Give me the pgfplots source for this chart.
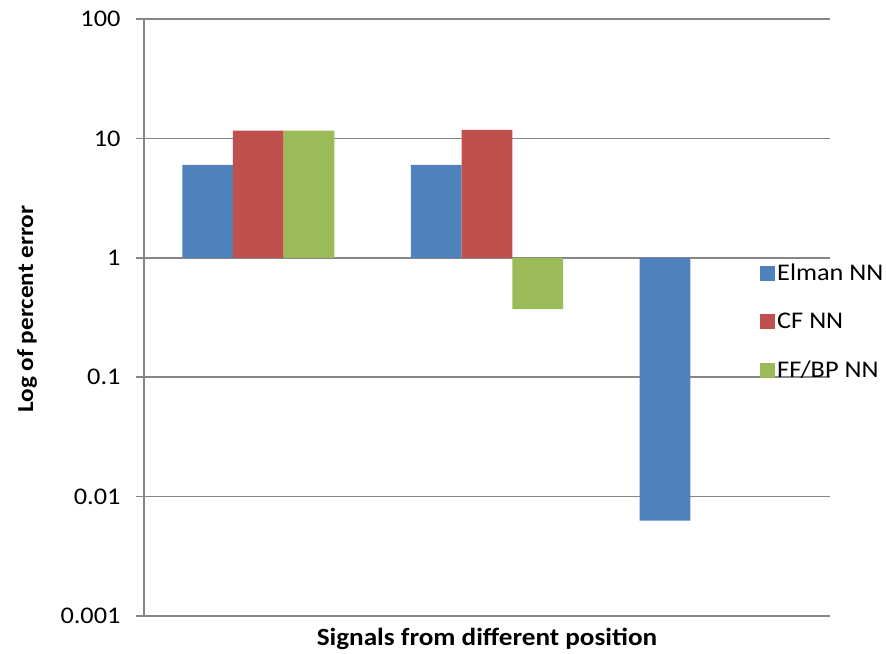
\documentclass[border=0pt]{standalone}
\usepackage{pgfplots}
\pgfplotsset{compat=1.18}
\usepackage{fontspec}
\setmainfont{Carlito}[FakeStretch=1.1]
\definecolor{elman}{HTML}{4F81BD}
\definecolor{cfnn}{HTML}{C0504D}
\definecolor{ffbp}{HTML}{9BBB59}
\definecolor{gridgray}{HTML}{868686}
\begin{document}
\begin{tikzpicture}
\begin{axis}[
  at={(0,0)}, anchor=south west,
  scale only axis,
  width=686bp, height=597bp,
  ymode=log, ymin=0.001, ymax=100,
  xmin=-0.5, xmax=2.5,
  ybar=0pt, bar width=50.7bp,
  axis x line*=bottom,
  x axis line style={draw=none},
  axis y line*=left,
  y axis line style={draw=gridgray, line width=1.5bp, -},
  ymajorgrids,
  grid style={draw=gridgray, line width=1.5bp},
  yminorticks=false,
  ytick={0.001,0.01,0.1,1,10,100},
  yticklabels={0.001,0.01,0.1,1,10,100},
  tick align=outside,
  major tick length=8bp,
  ytick style={draw=gridgray, line width=1.5bp},
  yticklabel style={font=\fontsize{24}{28}\selectfont, text=black, anchor=east, xshift=-12bp},
  /pgf/number format/assume math mode=true,
  xtick=\empty,
  xlabel={Signals from different position},
  xlabel style={at={(rel axis cs:0.5,0)}, anchor=center, yshift=-23bp, font=\bfseries\fontsize{24.8}{28}\selectfont},
  ylabel={Log of percent error},
  ylabel style={at={(rel axis cs:0,0.514)}, anchor=center, yshift=117bp, font=\bfseries\fontsize{23}{27}\selectfont},
  legend style={at={(rel axis cs:0.898,0.593)}, anchor=north west, draw=none, fill=none,
    font=\fontsize{24}{28}\selectfont, row sep=27bp, inner sep=0pt,
    /tikz/every even column/.append style={column sep=0pt}},
  legend cell align=left,
  legend image code/.code={\path[#1] (-3bp,-7.5bp) rectangle (12bp,7.5bp);},
]
\addplot[fill=elman, draw=none] coordinates {(0,6.0) (1,6.0) (2,0.0063)};
\addplot[fill=cfnn, draw=none] coordinates {(0,11.6) (1,11.8)};
\addplot[fill=ffbp, draw=none] coordinates {(0,11.6) (1,0.371)};
\legend{Elman NN, CF NN, FF/BP NN}
\end{axis}
\path[use as bounding box] (-144bp,-35bp) rectangle (742bp,616bp);
\end{tikzpicture}
\end{document}
